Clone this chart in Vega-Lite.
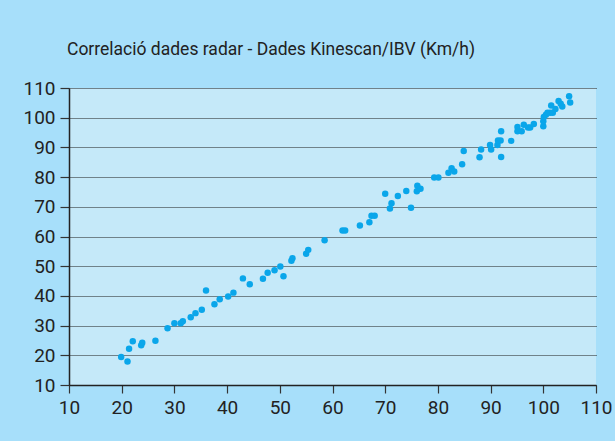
{
  "$schema": "https://vega.github.io/schema/vega-lite/v6.json",
  "width": 527,
  "height": 297,
  "autosize": {"type": "none"},
  "padding": {"left": 69, "top": 88, "right": 19, "bottom": 56},
  "background": "#a7dffa",
  "title": {
    "text": "Correlació dades radar - Dades Kinescan/IBV (Km/h)",
    "anchor": "start",
    "frame": "group",
    "dx": -2,
    "fontSize": 17.5,
    "font": "Roboto",
    "fontWeight": "normal",
    "color": "#222222",
    "offset": 21
  },
  "config": {
    "view": {"fill": "#c5e9f9", "stroke": null},
    "axis": {
      "labelFont": "Roboto",
      "labelFontSize": 19,
      "labelColor": "#222222",
      "domainColor": "#222222",
      "domainWidth": 1.5,
      "tickColor": "#333333",
      "tickWidth": 1.2,
      "tickSize": 8,
      "title": null
    }
  },
  "data": {
    "values": [
      {"radar": 19.9, "kinescan": 19.4},
      {"radar": 21.1, "kinescan": 17.9},
      {"radar": 21.4, "kinescan": 22.2},
      {"radar": 22.1, "kinescan": 24.7},
      {"radar": 23.7, "kinescan": 23.4},
      {"radar": 23.9, "kinescan": 24.2},
      {"radar": 26.4, "kinescan": 24.9},
      {"radar": 28.7, "kinescan": 29.1},
      {"radar": 30.0, "kinescan": 30.8},
      {"radar": 31.2, "kinescan": 30.8},
      {"radar": 31.6, "kinescan": 31.5},
      {"radar": 33.1, "kinescan": 32.8},
      {"radar": 34.0, "kinescan": 34.2},
      {"radar": 35.2, "kinescan": 35.3},
      {"radar": 36.0, "kinescan": 41.8},
      {"radar": 37.6, "kinescan": 37.2},
      {"radar": 38.6, "kinescan": 38.9},
      {"radar": 40.2, "kinescan": 39.8},
      {"radar": 41.2, "kinescan": 41.1},
      {"radar": 43.0, "kinescan": 45.9},
      {"radar": 44.3, "kinescan": 43.9},
      {"radar": 46.8, "kinescan": 45.8},
      {"radar": 47.7, "kinescan": 47.8},
      {"radar": 49.0, "kinescan": 48.6},
      {"radar": 50.1, "kinescan": 49.9},
      {"radar": 50.7, "kinescan": 46.6},
      {"radar": 52.2, "kinescan": 51.8},
      {"radar": 52.4, "kinescan": 52.7},
      {"radar": 55.0, "kinescan": 54.2},
      {"radar": 55.4, "kinescan": 55.5},
      {"radar": 58.5, "kinescan": 58.7},
      {"radar": 61.9, "kinescan": 62.0},
      {"radar": 62.4, "kinescan": 62.0},
      {"radar": 65.2, "kinescan": 63.7},
      {"radar": 67.0, "kinescan": 64.8},
      {"radar": 67.4, "kinescan": 67.0},
      {"radar": 68.0, "kinescan": 67.0},
      {"radar": 70.9, "kinescan": 69.4},
      {"radar": 71.2, "kinescan": 71.2},
      {"radar": 70.0, "kinescan": 74.4},
      {"radar": 72.4, "kinescan": 73.6},
      {"radar": 74.0, "kinescan": 75.3},
      {"radar": 74.9, "kinescan": 69.7},
      {"radar": 76.1, "kinescan": 77.1},
      {"radar": 76.0, "kinescan": 75.2},
      {"radar": 76.7, "kinescan": 76.1},
      {"radar": 79.3, "kinescan": 79.9},
      {"radar": 80.1, "kinescan": 79.9},
      {"radar": 82.0, "kinescan": 81.5},
      {"radar": 82.6, "kinescan": 83.0},
      {"radar": 83.1, "kinescan": 81.9},
      {"radar": 84.6, "kinescan": 84.3},
      {"radar": 84.9, "kinescan": 88.8},
      {"radar": 87.9, "kinescan": 86.7},
      {"radar": 88.2, "kinescan": 89.3},
      {"radar": 90.1, "kinescan": 89.3},
      {"radar": 89.9, "kinescan": 90.8},
      {"radar": 91.3, "kinescan": 90.8},
      {"radar": 91.4, "kinescan": 92.3},
      {"radar": 91.9, "kinescan": 92.3},
      {"radar": 92.0, "kinescan": 95.4},
      {"radar": 92.0, "kinescan": 86.8},
      {"radar": 93.9, "kinescan": 92.2},
      {"radar": 95.1, "kinescan": 96.9},
      {"radar": 95.1, "kinescan": 95.4},
      {"radar": 95.9, "kinescan": 95.4},
      {"radar": 96.3, "kinescan": 97.6},
      {"radar": 97.1, "kinescan": 96.7},
      {"radar": 97.5, "kinescan": 96.7},
      {"radar": 98.2, "kinescan": 97.9},
      {"radar": 100.0, "kinescan": 97.1},
      {"radar": 100.0, "kinescan": 98.8},
      {"radar": 100.1, "kinescan": 100.2},
      {"radar": 100.5, "kinescan": 101.0},
      {"radar": 100.8, "kinescan": 101.7},
      {"radar": 101.3, "kinescan": 101.7},
      {"radar": 101.5, "kinescan": 104.1},
      {"radar": 101.8, "kinescan": 101.7},
      {"radar": 102.3, "kinescan": 102.9},
      {"radar": 102.9, "kinescan": 105.6},
      {"radar": 103.3, "kinescan": 104.7},
      {"radar": 103.6, "kinescan": 103.8},
      {"radar": 104.9, "kinescan": 107.2},
      {"radar": 105.1, "kinescan": 105.1}
    ]
  },
  "mark": {"type": "circle", "size": 42, "opacity": 1, "color": "#0aa6ea"},
  "encoding": {
    "x": {
      "field": "radar",
      "type": "quantitative",
      "scale": {"domain": [10, 110], "nice": false, "zero": false},
      "axis": {"values": [10, 20, 30, 40, 50, 60, 70, 80, 90, 100, 110], "grid": false, "labelPadding": 5, "labelFlush": false}
    },
    "y": {
      "field": "kinescan",
      "type": "quantitative",
      "scale": {"domain": [10, 110], "nice": false, "zero": false},
      "axis": {"values": [10, 20, 30, 40, 50, 60, 70, 80, 90, 100, 110], "grid": true, "gridColor": "#1a1a1a", "gridDash": [1, 1], "gridWidth": 1, "labelPadding": 5, "labelFlush": false, "tickSize": 9}
    }
  }
}
